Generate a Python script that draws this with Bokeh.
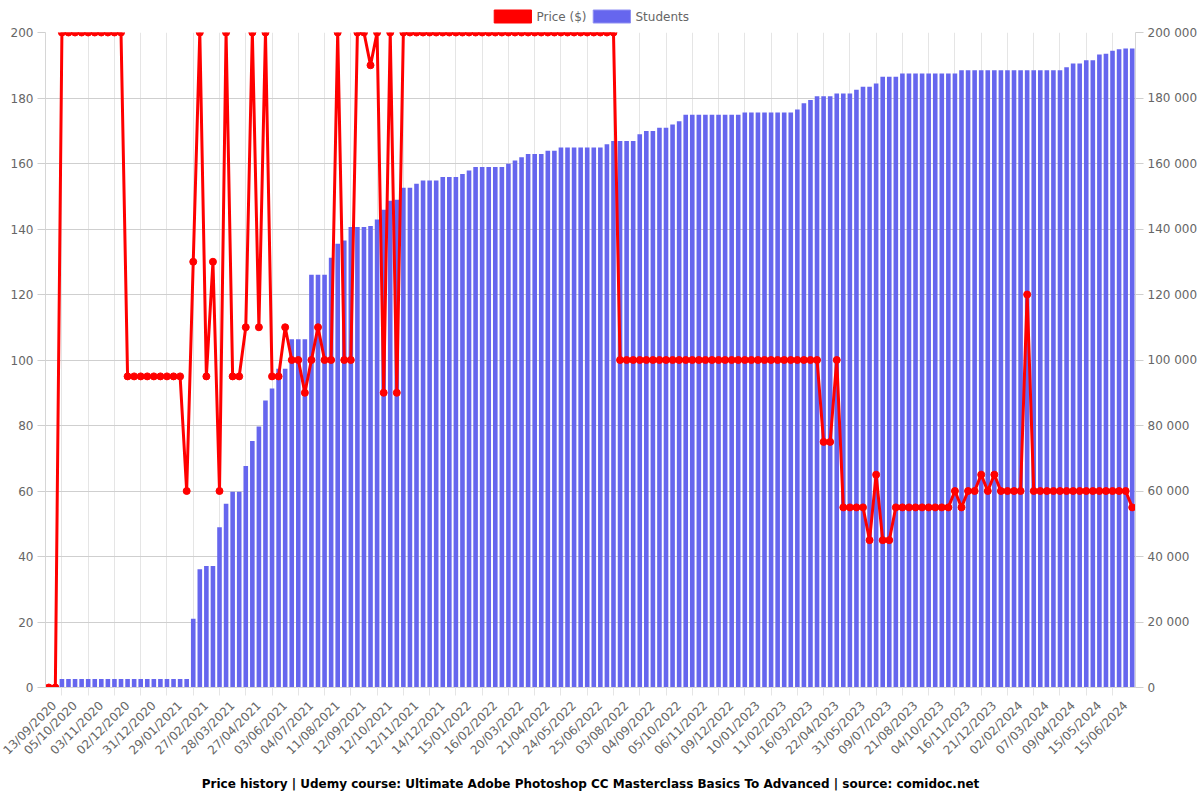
import math
from bokeh.plotting import figure
from bokeh.layouts import column
from bokeh.models import (Range1d, LinearAxis, FixedTicker, Title, ColumnDataSource)
from bokeh.core.properties import value
from bokeh.embed import file_html
from bokeh.resources import INLINE

# ---- data ----
tick_labels = ["13/09/2020", "05/10/2020", "03/11/2020", "02/12/2020", "31/12/2020",
               "29/01/2021", "27/02/2021", "28/03/2021", "27/04/2021", "03/06/2021",
               "04/07/2021", "11/08/2021", "12/09/2021", "12/10/2021", "12/11/2021",
               "14/12/2021", "15/01/2022", "16/02/2022", "20/03/2022", "21/04/2022",
               "24/05/2022", "25/06/2022", "03/08/2022", "04/09/2022", "05/10/2022",
               "06/11/2022", "09/12/2022", "10/01/2023", "11/02/2023", "16/03/2023",
               "22/04/2023", "31/05/2023", "09/07/2023", "21/08/2023", "04/10/2023",
               "16/11/2023", "21/12/2023", "02/02/2024", "07/03/2024", "09/04/2024",
               "15/05/2024", "15/06/2024"]

price = [0, 0,
         200, 200, 200, 200, 200, 200, 200, 200, 200, 200,
         95, 95, 95, 95, 95, 95, 95, 95, 95,
         60, 130, 200, 95, 130, 60, 200, 95, 95, 110,
         200, 110, 200, 95, 95, 110, 100, 100, 90, 100,
         110, 100, 100, 200, 100, 100, 200, 200, 190, 200,
         90, 200, 90,
         200, 200, 200, 200, 200, 200, 200, 200, 200, 200, 200,
         200, 200, 200, 200, 200, 200, 200, 200, 200, 200, 200,
         200, 200, 200, 200, 200, 200, 200, 200, 200, 200, 200,
         100, 100, 100, 100, 100, 100, 100, 100, 100, 100, 100,
         100, 100, 100, 100, 100, 100, 100, 100, 100, 100,
         100, 100, 100, 100, 100, 100, 100, 100, 100, 100,
         75, 75, 100,
         55, 55, 55, 55, 45, 65, 45, 45,
         55, 55, 55, 55, 55, 55, 55, 55, 55,
         60, 55, 60, 60, 65, 60, 65, 60, 60, 60, 60, 120,
         60, 60, 60, 60, 60, 60, 60, 60, 60, 60, 60, 60, 60, 60, 60,
         55]

students = [0, 0,
            2600, 2600, 2600, 2600, 2600, 2600, 2600, 2600, 2600, 2600,
            2600, 2600, 2600, 2600, 2600, 2600, 2600, 2600, 2600, 2600,
            21000, 36100, 37100, 37100, 48900, 56100, 59800, 59800, 67600, 75300,
            79700, 87600, 91300, 97300, 97300, 106300, 106300, 106300, 126000, 126000,
            126000, 131200, 135500, 136500, 140600, 140600, 140600, 140900, 142900, 145900,
            148600, 148900, 152600, 152600, 153800, 154800, 154800, 154800, 155900, 155900,
            155900, 156800, 157900, 158900, 158900, 158900, 158900, 158900,
            159900, 160900, 161900, 162900, 162900, 162900,
            163900, 163900,
            164900, 164900, 164900, 164900, 164900, 164900, 164900,
            165900,
            166900, 166900, 166900, 166900,
            168900, 169900, 169900, 170900, 170900, 171900, 172900,
            174900, 174900, 174900, 174900, 174900, 174900, 174900, 174900, 174900,
            175600, 175600, 175600, 175600, 175600, 175600, 175600, 175600,
            176500, 178400, 179400,
            180500, 180500, 180500,
            181400, 181400, 181400,
            182500, 183400, 183400, 184400,
            186500, 186500, 186500,
            187500, 187500, 187500, 187500, 187500, 187500, 187500, 187500, 187500,
            188500, 188500, 188500, 188500, 188500, 188500, 188500, 188500,
            188500, 188500, 188500, 188500, 188500, 188500, 188500, 188500,
            189400, 190500, 190500, 191500, 191500, 193300, 193500, 194400, 194900,
            195100, 195100]

series_names = ["Price ($)", "Students"]
series_colors = ["#ff0000", "#6666ee"]
series_borders = ["#ff0000", "#8f8ff2"]

assert len(price) == len(students) == 166
n = len(price)
idx = list(range(n))

price_ticks = [0, 20, 40, 60, 80, 100, 120, 140, 160, 180, 200]
student_ticks = [0, 20000, 40000, 60000, 80000, 100000, 120000, 140000, 160000, 180000, 200000]

FONT = "DejaVu Sans"
TXT = "#666666"
GRID_H = "#cfcfcf"
GRID_V = "#e5e5e5"
W = 1200
LEG_H = 24

# ---------------- legend strip (top) ----------------
leg = figure(width=W, height=LEG_H, output_backend="svg", toolbar_location=None,
             title=None, x_range=Range1d(0, W), y_range=Range1d(LEG_H, 0),
             min_border=0, x_axis_type=None, y_axis_type=None)
leg.outline_line_color = None
leg.grid.visible = False
leg.background_fill_color = "white"
leg.border_fill_color = "white"

box_w, box_h, gap, pad = 40, 12, 6, 12
text_w = [51, 56]
total = sum(box_w + gap + tw for tw in text_w) + pad * (len(text_w) - 1)
x0 = W / 2 - total / 2
bx, tx = [], []
cur = x0
for tw in text_w:
    bx.append(cur + box_w / 2)
    tx.append(cur + box_w + gap)
    cur += box_w + gap + tw + pad
leg.rect(x=bx, y=[16] * 2, width=box_w + 1, height=box_h + 1,
         fill_color=series_colors, line_color=series_borders, line_width=1)
leg.text(x=tx, y=[16] * 2, text=series_names, text_font=value(FONT),
         text_font_size="12px", text_color=TXT, text_baseline="middle", text_align="left")

# ---------------- main chart ----------------
p = figure(width=W, height=800 - LEG_H, output_backend="svg", toolbar_location=None,
           title=None,
           x_range=Range1d(-0.5, n - 0.5), y_range=Range1d(0, 200),
           min_border_left=45, min_border_right=64, min_border_top=8,
           min_border_bottom=113)
p.outline_line_color = None
p.background_fill_color = "white"
p.border_fill_color = "white"
p.extra_y_ranges = {"students": Range1d(0, 200000)}

label_pos = [i for i in range(0, n, 4)][:len(tick_labels)]
grid_pos = [i + 2 for i in label_pos[:-1]]

ax = p.xaxis[0]
ax.ticker = FixedTicker(ticks=label_pos, minor_ticks=grid_pos)
ax.major_label_overrides = {pos: lab for pos, lab in zip(label_pos, tick_labels)}
ax.major_label_orientation = math.pi / 4
ax.major_tick_out = 0
ax.major_tick_in = 0
ax.minor_tick_out = 8
ax.minor_tick_in = 0
ax.minor_tick_line_color = GRID_V
ax.axis_line_color = "#d6d6d6"
ax.major_label_text_font = FONT
ax.major_label_text_font_size = "12px"
ax.major_label_text_color = TXT
ax.major_label_standoff = 8

ly = p.yaxis[0]
ly.ticker = FixedTicker(ticks=price_ticks)
ly.major_tick_out = 8
ly.major_tick_in = 0
ly.major_tick_line_color = GRID_H
ly.minor_tick_line_color = None
ly.axis_line_color = "#d6d6d6"
ly.major_label_text_font = FONT
ly.major_label_text_font_size = "12px"
ly.major_label_text_color = TXT
ly.major_label_standoff = 4

ry = LinearAxis(y_range_name="students", ticker=FixedTicker(ticks=student_ticks))
ry.major_label_overrides = {t: f"{t:,}".replace(",", " ") for t in student_ticks}
ry.major_tick_out = 8
ry.major_tick_in = 0
ry.major_tick_line_color = GRID_H
ry.minor_tick_line_color = None
ry.axis_line_color = "#d6d6d6"
ry.major_label_text_font = FONT
ry.major_label_text_font_size = "12px"
ry.major_label_text_color = TXT
ry.major_label_standoff = 4
p.add_layout(ry, "right")

p.ygrid[0].ticker = FixedTicker(ticks=price_ticks)
p.ygrid[0].grid_line_color = GRID_H
p.xgrid[0].ticker = FixedTicker(ticks=grid_pos)
p.xgrid[0].grid_line_color = GRID_V

src = ColumnDataSource(dict(x=idx, price=price, students=students))

p.vbar(x="x", top="students", width=0.7, source=src, y_range_name="students",
       fill_color=series_colors[1], line_color=None)
p.line(x="x", y="price", source=src, line_color=series_colors[0], line_width=3)
p.scatter(x="x", y="price", source=src, size=7, fill_color=series_colors[0],
          line_color=series_colors[0])

title = Title(text="Price history | Udemy course: Ultimate Adobe Photoshop CC Masterclass "
                   "Basics To Advanced | source: comidoc.net",
              align="center", text_font=FONT, text_font_size="12px",
              text_font_style="bold", text_color="#000000", standoff=18)
p.add_layout(title, "below")

layout = column(leg, p, spacing=0)
open("out.html", "w").write(file_html(layout, INLINE))
